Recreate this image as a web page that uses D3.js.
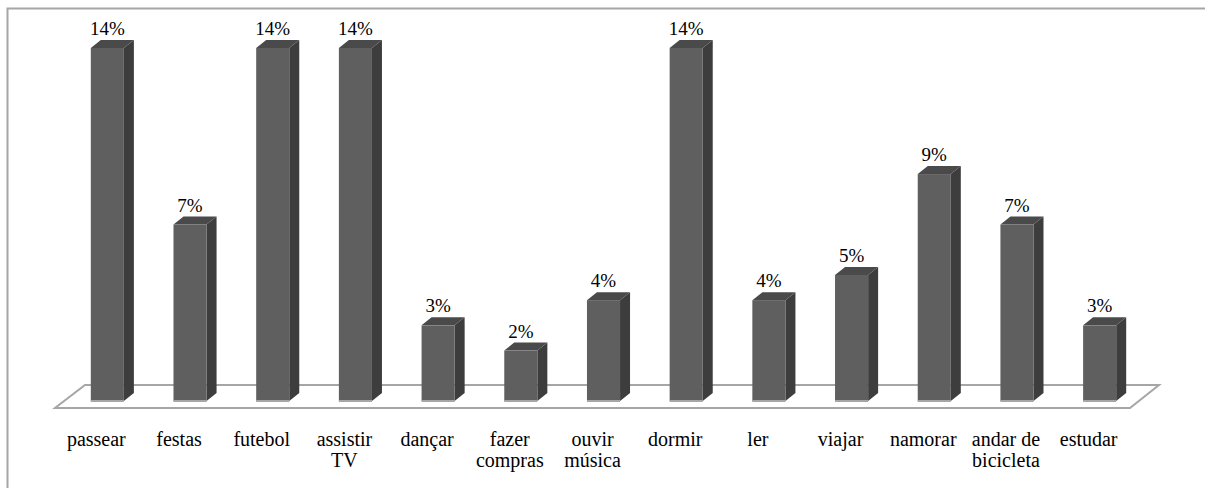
<!DOCTYPE html>
<html>
<head>
<meta charset="utf-8">
<script src="https://cdn.jsdelivr.net/npm/d3@7"></script>
<style>
  body { margin: 0; background: #fff; }
</style>
</head>
<body>
<div id="chart"></div>
<script>
// categories (line breaks as in the picture) and percentages
var categories = ["passear", "festas", "futebol", "assistir\nTV", "dançar", "fazer\ncompras",
  "ouvir\nmúsica", "dormir", "ler", "viajar", "namorar", "andar de\nbicicleta", "estudar"];
var values = [14, 7, 14, 14, 3, 2, 4, 14, 4, 5, 9, 7, 3];
var valueLabels = ["14%", "7%", "14%", "14%", "3%", "2%", "4%", "14%", "4%", "5%", "9%", "7%", "3%"];

var svgWidth = 1205;
var svgHeight = 488;
var fontFamily = "Liberation Serif, DejaVu Serif";

// floor front edge and depth
var floorLeft = 55, floorRight = 1130, floorFront = 408;
var floorDx = 29, floorDy = 23;
// bar depth
var depthX = 10, depthY = 8;
var barBase = 401;

var svg = d3.select("#chart")
  .append("svg")
  .attr("width", svgWidth)
  .attr("height", svgHeight)
  .style("display", "block");

// outer frame (only left & top visible)
svg.append("path")
  .attr("d", "M7.5,488 L7.5,8.5 L1205,8.5")
  .attr("fill", "none")
  .attr("stroke", "#a6a6a6")
  .attr("stroke-width", 2);

var data = categories.map((c, i) => ({cat: c, value: values[i], label: valueLabels[i]}));

var xScale = d3.scaleBand()
  .domain(categories)
  .range([floorLeft, floorRight])
  .paddingInner(0)
  .paddingOuter(0);

var yScale = d3.scaleLinear()
  .domain([0, 14])
  .range([barBase, 48]);

var barWidth = xScale.bandwidth() * 0.4;
var barOffset = xScale.bandwidth() / 2 - barWidth / 2 + 11;

// floor parallelogram
var floor = [
  [floorLeft, floorFront],
  [floorRight, floorFront],
  [floorRight + floorDx, floorFront - floorDy],
  [floorLeft + floorDx + 1, floorFront - floorDy]
];
svg.append("polygon")
  .attr("points", floor.map(p => p.join(",")).join(" "))
  .attr("fill", "none")
  .attr("stroke", "#a6a6a6")
  .attr("stroke-width", 2);

var bars = svg.selectAll(".bar")
  .data(data)
  .enter()
  .append("g")
  .attr("class", "bar");

// side face
bars.append("polygon")
  .attr("points", d => {
    var x = xScale(d.cat) + barOffset + barWidth;
    var y = yScale(d.value);
    return [[x, y], [x + depthX, y - depthY], [x + depthX, barBase - depthY], [x, barBase]]
      .map(p => p.join(",")).join(" ");
  })
  .attr("fill", "#3d3d3d");

// top face
bars.append("polygon")
  .attr("points", d => {
    var x = xScale(d.cat) + barOffset;
    var y = yScale(d.value);
    return [[x, y], [x + depthX, y - depthY], [x + barWidth + depthX, y - depthY], [x + barWidth, y]]
      .map(p => p.join(",")).join(" ");
  })
  .attr("fill", "#4a4a4a");

// front face
bars.append("rect")
  .attr("x", d => xScale(d.cat) + barOffset)
  .attr("y", d => yScale(d.value))
  .attr("width", barWidth)
  .attr("height", d => barBase - yScale(d.value))
  .attr("fill", "#5f5f5f");

// light edge at the bottom of the front face
bars.append("line")
  .attr("x1", d => xScale(d.cat) + barOffset)
  .attr("x2", d => xScale(d.cat) + barOffset + barWidth)
  .attr("y1", barBase)
  .attr("y2", barBase)
  .attr("stroke", "#a6a6a6")
  .attr("stroke-width", 2);

// value labels
bars.append("text")
  .attr("x", d => xScale(d.cat) + barOffset + barWidth / 2)
  .attr("y", d => yScale(d.value) - depthY - 5)
  .attr("text-anchor", "middle")
  .style("font-family", fontFamily)
  .style("font-size", "19px")
  .attr("fill", "#000")
  .text(d => d.label);

// category labels
var catLabels = svg.selectAll(".cat")
  .data(categories)
  .enter()
  .append("text")
  .attr("class", "cat")
  .attr("x", d => xScale(d) + xScale.bandwidth() / 2)
  .attr("y", 446)
  .attr("text-anchor", "middle")
  .style("font-family", fontFamily)
  .style("font-size", "20px")
  .attr("fill", "#000");

catLabels.selectAll("tspan")
  .data(d => d.split("\n").map(s => ({s: s, x: xScale(d) + xScale.bandwidth() / 2})))
  .enter()
  .append("tspan")
  .attr("x", d => d.x)
  .attr("dy", (d, i) => i === 0 ? 0 : 21)
  .text(d => d.s);
</script>
</body>
</html>
